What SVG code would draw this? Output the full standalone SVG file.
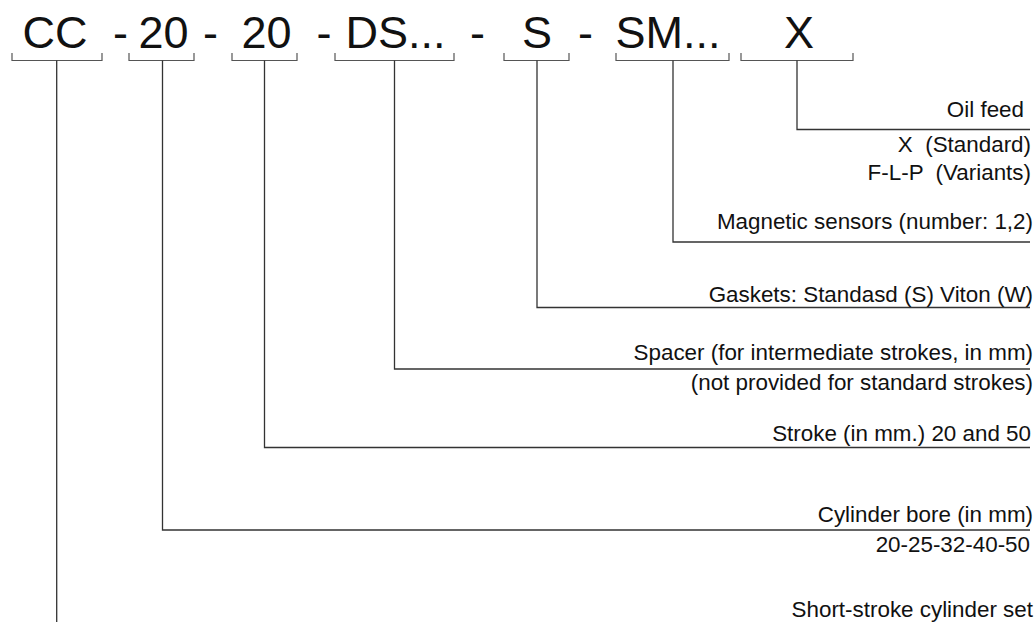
<svg xmlns="http://www.w3.org/2000/svg" width="1036" height="622" viewBox="0 0 1036 622">
<style>
.code{font-family:"Liberation Sans",Arial,sans-serif;font-size:45px;fill:#111;text-anchor:middle}
.lbl{font-family:"Liberation Sans",Arial,sans-serif;font-size:22.4px;fill:#111;text-anchor:end}
.br{fill:none;stroke:#555;stroke-width:1.2}
.ln{fill:none;stroke:#333;stroke-width:1.3}
</style>
<rect width="1036" height="622" fill="#fff"/>
<g id="code">
<text class="code" x="55" y="48">CC</text>
<text class="code" x="120.5" y="48">-</text>
<text class="code" x="163.5" y="48">20</text>
<text class="code" x="210.5" y="48">-</text>
<text class="code" x="266.5" y="48">20</text>
<text class="code" x="324" y="48">-</text>
<text class="code" x="395.5" y="48">DS...</text>
<text class="code" x="477.5" y="48">-</text>
<text class="code" x="537" y="48">S</text>
<text class="code" x="585.5" y="48">-</text>
<text class="code" x="668" y="48">SM...</text>
<text class="code" x="799" y="48">X</text>
</g>
<g id="brackets">
<path class="br" d="M12,53V60.5H102V53"/>
<path class="br" d="M129,53V60.5H194V53"/>
<path class="br" d="M232,53V60.5H297V53"/>
<path class="br" d="M335,53V60.5H454V53"/>
<path class="br" d="M504,53V60.5H569V53"/>
<path class="br" d="M616,53V60.5H729V53"/>
<path class="br" d="M741,53V60.5H853V53"/>
</g>
<g id="connectors">
<path class="ln" d="M797,60.5V129.5H1030"/>
<path class="ln" d="M673,60.5V242H1030"/>
<path class="ln" d="M537,60.5V307.5H1030"/>
<path class="ln" d="M394.5,60.5V369H1030"/>
<path class="ln" d="M264.5,60.5V447.5H1030"/>
<path class="ln" d="M162.5,60.5V530H1030"/>
<path class="ln" d="M56.7,60.5V622"/>
</g>
<g id="oil-feed">
<text class="lbl" x="1024" y="117">Oil feed</text>
<text class="lbl" x="1031" y="152" xml:space="preserve">X  (Standard)</text>
<text class="lbl" x="1031" y="179.5" xml:space="preserve">F-L-P  (Variants)</text>
</g>
<g id="sensors">
<text class="lbl" x="1033" y="228.5">Magnetic sensors (number: 1,2)</text>
</g>
<g id="gaskets">
<text class="lbl" x="1033" y="301.5">Gaskets: Standasd (S) Viton (W)</text>
</g>
<g id="spacer">
<text class="lbl" x="1033" y="360">Spacer (for intermediate strokes, in mm)</text>
<text class="lbl" x="1033" y="390">(not provided for standard strokes)</text>
</g>
<g id="stroke">
<text class="lbl" x="1031" y="441">Stroke (in mm.) 20 and 50</text>
</g>
<g id="bore">
<text class="lbl" x="1033" y="521.5">Cylinder bore (in mm)</text>
<text class="lbl" x="1030" y="551.5">20-25-32-40-50</text>
</g>
<g id="set">
<text class="lbl" x="1033" y="617">Short-stroke cylinder set</text>
</g>
</svg>
